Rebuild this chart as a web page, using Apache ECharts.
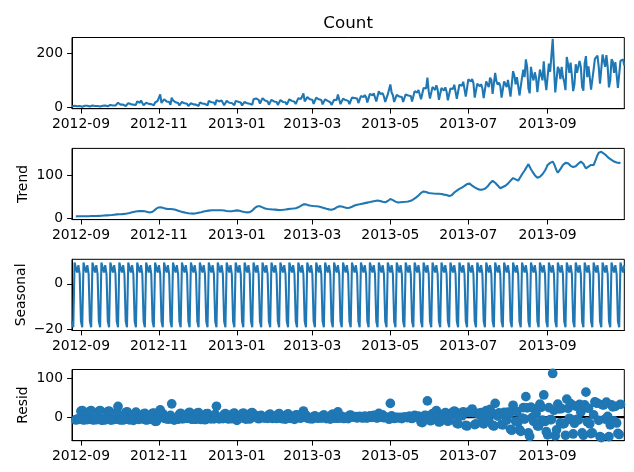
<!DOCTYPE html>
<html><head><meta charset="utf-8">
<script src="https://cdn.jsdelivr.net/npm/echarts@6/dist/echarts.min.js"></script>
<style>html,body{margin:0;padding:0;background:#fff}#c{width:634px;height:472px}</style>
</head><body><div id="c"></div>
<script>
const startDate = '2012-08-25';
const tickLabels = ['2012-09','2012-11','2013-01','2013-03','2013-05','2013-07','2013-09'];
const countTicks = [0, 200];
const trendTicks = [0, 100];
const seasonalTicks = [-20, 0];
const residTicks = [0, 100];
const residZeroLine = [0, 0];

const countValues = [
3,2,6,5,4,6,5,
3,2,6,6,5,6,4,
3,2,7,6,5,6,5,
3,3,7,6,6,7,5,
4,3,9,8,7,10,7,
4,17,12,10,9,10,8,
5,5,15,13,12,16,10,
7,9,22,19,17,25,16,
8,6,17,16,13,18,12,
8,8,18,20,24,36,48,
16,14,30,27,22,25,20,
9,36,26,21,19,22,16,
7,6,20,18,15,18,13,
5,4,15,13,11,14,10,
6,5,18,16,14,19,13,
8,7,24,22,19,24,18,
9,27,26,22,20,25,18,
8,7,24,20,17,22,16,
9,8,24,18,21,25,18,
7,6,20,17,15,18,13,
9,10,30,37,33,35,28,
14,12,34,30,25,28,22,
10,9,28,25,22,26,20,
9,9,27,24,20,25,19,
10,10,30,27,24,29,21,
12,11,34,33,31,40,52,
22,18,38,36,30,35,28,
13,12,36,33,30,35,27,
11,10,30,26,24,27,19,
9,8,28,30,27,48,29,
12,10,32,30,27,32,24,
12,11,36,38,35,40,33,
16,15,42,40,38,46,38,
18,17,50,46,44,52,48,
22,20,60,50,46,52,40,
20,18,48,46,85,55,45,
20,18,46,44,40,45,38,
20,19,48,46,44,50,42,
22,24,60,58,55,64,60,
30,28,72,75,70,110,60,
33,30,76,70,64,82,66,
28,26,72,68,62,74,58,
26,24,70,72,68,84,80,
32,30,84,86,80,95,90,
40,38,104,102,96,105,90,
36,34,88,84,78,86,70,
34,36,96,98,75,110,102,
50,44,128,96,84,92,80,
36,34,96,94,75,102,96,
40,38,134,118,85,112,80,
44,42,110,140,112,178,150,
70,52,150,118,100,130,110,
56,52,140,134,100,171,105,
64,60,162,132,130,254,150,
55,60,150,140,105,150,112,
95,64,187,160,128,166,118,
60,85,160,128,125,172,150,
76,62,163,190,112,152,110,
66,64,140,180,182,192,150,
88,84,196,192,150,194,150,
74,100,178,170,128,168,120,
72,66,172,168,178,155
];

const trendValues = [
null,null,null,3.8,3.9,4.0,3.9,
4.0,4.1,4.0,4.1,4.2,4.1,4.2,
4.3,4.4,4.4,4.5,4.6,4.7,4.7,
4.8,5.0,5.2,5.4,5.6,5.8,6.0,
6.2,6.4,6.6,6.8,7.0,7.6,8.0,
8.4,8.6,8.7,8.8,9.0,9.3,9.6,
10.0,10.4,10.8,11.5,12.3,13.2,14.0,
14.8,15.4,15.9,16.2,16.4,16.3,16.1,
16.0,15.6,15.0,14.2,13.5,12.8,12.4,
14.5,17.0,19.5,22.0,24.0,25.0,25.2,
25.0,24.0,23.0,22.0,21.5,21.0,21.0,
21.0,20.8,20.5,20.0,19.2,18.2,17.2,
16.2,15.2,14.4,13.7,13.0,12.4,11.8,
11.2,10.7,10.3,10.0,10.2,10.6,11.2,
11.8,12.4,13.0,13.6,14.3,15.0,15.6,
16.2,16.8,17.3,17.7,18.0,18.1,18.2,
18.3,18.2,18.1,18.0,18.1,18.0,17.8,
17.4,17.0,16.5,16.0,15.7,15.6,15.9,
16.4,17.0,17.5,17.9,17.6,16.8,16.0,
15.2,14.5,13.9,13.5,13.2,13.2,13.6,
15.0,17.5,20.5,23.5,26.0,27.5,28.0,
27.5,26.5,25.0,23.5,22.2,21.3,21.0,
20.8,20.5,20.2,20.0,19.8,19.6,19.3,
19.0,18.9,18.8,19.0,19.3,19.6,20.0,
20.4,20.8,21.2,21.5,21.8,22.2,22.6,
23.0,24.0,25.0,26.5,28.5,30.5,32.0,
33.0,32.0,31.0,30.0,29.2,28.6,28.2,
28.0,27.8,27.5,27.2,27.0,26.5,25.5,
24.5,23.5,22.5,21.5,20.8,20.2,19.8,
19.5,19.6,21.0,23.0,25.0,26.5,27.5,
28.0,27.0,26.0,25.0,24.2,23.6,23.5,
24.0,25.0,26.5,28.0,29.3,30.3,31.0,
31.5,32.2,33.0,33.7,34.4,35.0,35.6,
36.2,36.8,37.4,38.0,38.7,39.3,40.0,
40.5,41.0,41.0,40.2,39.0,38.0,37.3,
36.8,37.5,40.0,43.0,44.6,43.5,42.0,
40.0,38.5,37.2,36.6,36.8,37.2,37.5,
37.8,38.0,38.3,38.6,38.9,39.2,40.5,
42.0,44.0,46.0,48.0,50.0,53.0,56.0,
59.0,61.5,62.5,62.0,61.0,60.0,59.0,
58.7,58.2,57.8,57.5,57.2,57.0,57.0,
57.0,56.8,56.3,55.6,55.0,54.4,54.0,
53.0,51.8,50.7,53.5,57.0,60.0,62.5,
64.5,66.5,68.5,70.0,71.5,73.0,75.5,
78.0,80.0,82.0,81.0,78.5,76.0,74.0,
72.0,70.5,69.0,67.8,66.5,66.0,66.8,
67.8,68.8,70.0,74.0,78.0,82.0,85.5,
87.6,86.0,83.0,80.0,76.5,73.0,70.0,
71.5,73.0,74.5,76.0,78.0,81.0,84.5,
88.0,91.0,94.0,92.5,91.0,89.5,88.0,
93.0,98.0,103.0,107.0,112.0,117.0,122.0,
127.0,121.0,115.0,110.0,105.6,101.0,97.0,
95.0,94.0,97.0,100.0,103.0,105.6,112.0,
118.0,125.0,128.0,130.0,131.5,133.0,128.0,
120.0,112.0,107.0,110.0,115.0,120.0,125.0,
128.0,130.0,131.0,129.0,126.0,123.0,121.0,
120.0,120.0,122.0,125.0,128.0,131.0,133.0,
133.0,128.0,122.0,117.0,119.0,121.0,123.0,
125.0,124.0,125.0,132.0,140.0,148.0,154.0,
155.0,156.0,155.0,152.0,150.0,147.0,144.0,
141.0,139.0,137.0,135.0,133.0,132.0,131.0,
130.5,130.0,129.5,null,null,null
];

const seasonalValues = [
-16.4,-19.1,9.4,8.6,5.0,8.2,4.3,
-16.4,-19.1,9.4,8.6,5.0,8.2,4.3,
-16.4,-19.1,9.4,8.6,5.0,8.2,4.3,
-16.4,-19.1,9.4,8.6,5.0,8.2,4.3,
-16.4,-19.1,9.4,8.6,5.0,8.2,4.3,
-16.4,-19.1,9.4,8.6,5.0,8.2,4.3,
-16.4,-19.1,9.4,8.6,5.0,8.2,4.3,
-16.4,-19.1,9.4,8.6,5.0,8.2,4.3,
-16.4,-19.1,9.4,8.6,5.0,8.2,4.3,
-16.4,-19.1,9.4,8.6,5.0,8.2,4.3,
-16.4,-19.1,9.4,8.6,5.0,8.2,4.3,
-16.4,-19.1,9.4,8.6,5.0,8.2,4.3,
-16.4,-19.1,9.4,8.6,5.0,8.2,4.3,
-16.4,-19.1,9.4,8.6,5.0,8.2,4.3,
-16.4,-19.1,9.4,8.6,5.0,8.2,4.3,
-16.4,-19.1,9.4,8.6,5.0,8.2,4.3,
-16.4,-19.1,9.4,8.6,5.0,8.2,4.3,
-16.4,-19.1,9.4,8.6,5.0,8.2,4.3,
-16.4,-19.1,9.4,8.6,5.0,8.2,4.3,
-16.4,-19.1,9.4,8.6,5.0,8.2,4.3,
-16.4,-19.1,9.4,8.6,5.0,8.2,4.3,
-16.4,-19.1,9.4,8.6,5.0,8.2,4.3,
-16.4,-19.1,9.4,8.6,5.0,8.2,4.3,
-16.4,-19.1,9.4,8.6,5.0,8.2,4.3,
-16.4,-19.1,9.4,8.6,5.0,8.2,4.3,
-16.4,-19.1,9.4,8.6,5.0,8.2,4.3,
-16.4,-19.1,9.4,8.6,5.0,8.2,4.3,
-16.4,-19.1,9.4,8.6,5.0,8.2,4.3,
-16.4,-19.1,9.4,8.6,5.0,8.2,4.3,
-16.4,-19.1,9.4,8.6,5.0,8.2,4.3,
-16.4,-19.1,9.4,8.6,5.0,8.2,4.3,
-16.4,-19.1,9.4,8.6,5.0,8.2,4.3,
-16.4,-19.1,9.4,8.6,5.0,8.2,4.3,
-16.4,-19.1,9.4,8.6,5.0,8.2,4.3,
-16.4,-19.1,9.4,8.6,5.0,8.2,4.3,
-16.4,-19.1,9.4,8.6,5.0,8.2,4.3,
-16.4,-19.1,9.4,8.6,5.0,8.2,4.3,
-16.4,-19.1,9.4,8.6,5.0,8.2,4.3,
-16.4,-19.1,9.4,8.6,5.0,8.2,4.3,
-16.4,-19.1,9.4,8.6,5.0,8.2,4.3,
-16.4,-19.1,9.4,8.6,5.0,8.2,4.3,
-16.4,-19.1,9.4,8.6,5.0,8.2,4.3,
-16.4,-19.1,9.4,8.6,5.0,8.2,4.3,
-16.4,-19.1,9.4,8.6,5.0,8.2,4.3,
-16.4,-19.1,9.4,8.6,5.0,8.2,4.3,
-16.4,-19.1,9.4,8.6,5.0,8.2,4.3,
-16.4,-19.1,9.4,8.6,5.0,8.2,4.3,
-16.4,-19.1,9.4,8.6,5.0,8.2,4.3,
-16.4,-19.1,9.4,8.6,5.0,8.2,4.3,
-16.4,-19.1,9.4,8.6,5.0,8.2,4.3,
-16.4,-19.1,9.4,8.6,5.0,8.2,4.3,
-16.4,-19.1,9.4,8.6,5.0,8.2,4.3,
-16.4,-19.1,9.4,8.6,5.0,8.2,4.3,
-16.4,-19.1,9.4,8.6,5.0,8.2,4.3,
-16.4,-19.1,9.4,8.6,5.0,8.2,4.3,
-16.4,-19.1,9.4,8.6,5.0,8.2,4.3,
-16.4,-19.1,9.4,8.6,5.0,8.2,4.3,
-16.4,-19.1,9.4,8.6,5.0,8.2,4.3,
-16.4,-19.1,9.4,8.6,5.0,8.2,4.3,
-16.4,-19.1,9.4,8.6,5.0,8.2,4.3,
-16.4,-19.1,9.4,8.6,5.0,8.2,4.3,
-16.4,-19.1,9.4,8.6,5.0,8.2
];

const residValues = [
null,null,null,-7.4,-4.9,-6.2,-3.2,
15.4,17.0,-7.4,-6.7,-4.2,-6.3,-4.5,
15.1,16.7,-6.8,-7.1,-4.6,-6.9,-4.0,
14.6,17.1,-7.6,-8.0,-4.6,-7.0,-5.3,
14.2,15.7,-7.0,-7.4,-5.0,-5.8,-5.3,
12.0,27.5,-6.1,-7.4,-5.0,-7.5,-5.9,
11.4,13.7,-5.2,-7.1,-5.3,-5.4,-8.3,
8.6,12.7,-3.3,-5.8,-4.4,0.5,-4.4,
8.4,9.5,-7.4,-6.8,-5.5,-3.0,-4.7,
9.9,10.1,-10.9,-10.6,-5.0,2.8,18.5,
7.4,9.1,-2.4,-3.6,-4.5,-4.2,-5.3,
4.4,34.3,-3.9,-7.6,-5.2,-4.4,-5.5,
7.2,9.9,-3.8,-4.3,-3.0,-2.6,-3.1,
10.2,12.4,-4.7,-5.6,-4.2,-4.8,-5.5,
10.6,11.7,-4.4,-6.2,-5.3,-4.2,-6.9,
8.2,9.3,-2.7,-4.3,-4.0,-2.3,-4.5,
7.1,27.9,-1.5,-4.6,-3.1,-1.2,-4.1,
7.0,9.1,-1.9,-4.6,-3.7,-1.8,-4.2,
9.0,10.1,-2.9,-8.5,-1.6,0.0,-2.3,
8.2,10.6,-3.3,-5.1,-3.2,-3.4,-4.9,
10.4,11.6,0.1,4.9,2.0,-0.7,-4.3,
2.9,4.6,-0.4,-2.1,-2.2,-1.5,-3.3,
5.6,7.6,-1.6,-3.6,-2.8,-1.8,-3.6,
6.4,9.2,-1.2,-3.6,-4.3,-2.8,-5.3,
6.0,8.3,-0.6,-3.1,-2.8,-1.4,-5.9,
5.4,6.1,-0.4,-2.1,-2.5,1.3,15.7,
5.4,5.1,-2.4,-2.6,-4.2,-1.8,-4.5,
1.4,3.3,-0.9,-2.8,-2.0,0.3,-2.8,
2.9,5.6,-1.9,-4.1,-1.8,-1.4,-5.1,
5.9,7.5,-2.4,-1.6,-3.0,13.3,-2.8,
0.4,2.1,-3.4,-3.6,-2.2,0.2,-3.8,
4.4,5.1,0.1,1.4,0.7,1.5,-2.3,
0.9,1.9,-0.4,-2.3,-1.4,2.8,-1.9,
-1.8,-0.7,3.2,-0.6,0.3,4.5,3.7,
-2.1,-1.9,9.6,1.2,2.0,5.8,-1.6,
-0.4,-0.4,-1.4,-5.6,35.4,3.3,-1.3,
-3.6,-1.4,-0.6,-1.2,-1.8,-0.4,-3.8,
-1.4,0.1,0.3,-1.2,0.1,2.6,-2.8,
-3.6,-0.9,4.6,1.4,0.0,2.8,-0.3,
-12.6,-14.4,0.1,4.4,4.0,41.8,-3.3,
-9.3,-9.1,8.8,3.9,1.8,16.8,4.7,
-12.6,-11.7,6.3,3.8,2.0,11.4,-0.3,
-10.6,-8.7,9.9,9.9,6.0,15.8,13.2,
-16.1,-17.4,6.1,7.4,3.5,13.8,10.2,
-21.6,-22.9,12.6,12.4,12.5,20.8,11.7,
-19.6,-17.4,9.6,7.6,6.5,11.8,-1.1,
-17.4,-13.7,16.6,15.4,-8.0,19.8,12.2,
-21.2,-22.9,35.6,7.4,2.5,10.8,5.7,
-19.1,-19.9,12.1,9.4,-8.0,12.8,7.2,
-31.6,-33.9,30.6,16.9,-11.0,14.3,-12.3,
-32.6,-36.9,-2.4,24.4,-5.0,52.8,23.7,
-40.6,-49.9,25.6,-0.6,-10.6,20.8,8.7,
-22.6,-22.9,33.6,25.4,-8.0,57.2,-11.3,
-37.6,-45.9,24.6,-6.6,-6.5,112.8,17.7,
-48.6,-32.9,33.6,21.4,-15.0,21.8,-17.3,
-16.6,-46.9,46.6,22.4,-3.0,34.8,-7.3,
-43.6,-15.9,28.6,-5.6,-8.0,32.8,12.7,
-40.6,-46.9,31.6,64.4,-12.0,22.8,-17.3,
-42.6,-40.9,5.6,39.4,37.0,35.8,-8.3,
-50.6,-52.9,31.6,31.4,-5.0,38.8,1.7,
-50.6,-19.9,31.6,26.4,-10.0,27.8,-15.3,
-42.1,-44.9,33.1,null,null,null
];

const DAY = 86400000;
const t0 = Date.parse(startDate + 'T00:00:00Z');
const dates = countValues.map((_, i) => t0 + i * DAY);
const pairs = arr => arr.map((v, i) => [dates[i], v]).filter(p => p[1] !== null);
const xTickValues = tickLabels.map(s => Date.parse(s + '-01T00:00:00Z'));
const labelMap = {};
tickLabels.forEach((s, i) => { labelMap[xTickValues[i]] = s; });
const xMin = dates[0], xMax = dates[dates.length - 1];

const FONT = 'DejaVu Sans';
const FS = 13.9;
const BLUE = '#1f77b4';
const LEFT = 72, WIDTH = 552.3, HEIGHT = 71.2;
const tops = [37.5, 148.4, 259.3, 369.5];

function xAxis(i) {
  return {
    type: 'value', gridIndex: i, min: xMin, max: xMax,
    axisLine: {show: true, onZero: false, lineStyle: {color: '#000', width: 1}},
    axisTick: {show: true, customValues: xTickValues, length: 4.9, lineStyle: {color: '#000', width: 1}},
    axisLabel: {customValues: xTickValues, formatter: v => labelMap[v] || '', fontSize: FS, fontFamily: FONT, color: '#000', margin: 9},
    splitLine: {show: false}
  };
}
function yAxis(i, min, max, ticks, name, gap) {
  return {
    type: 'value', gridIndex: i, min: min, max: max,
    name: name, nameLocation: 'middle', nameRotate: 90, nameGap: gap, nameMoveOverlap: false,
    nameTextStyle: {fontSize: FS, fontFamily: FONT, color: '#000'},
    axisLine: {show: true, onZero: false, lineStyle: {color: '#000', width: 1}},
    axisTick: {show: true, customValues: ticks, length: 4.9, lineStyle: {color: '#000', width: 1}},
    axisLabel: {customValues: ticks, formatter: v => (v < 0 ? '\u2212' + Math.abs(v) : String(v)), fontSize: FS, fontFamily: FONT, color: '#000', margin: 9},
    splitLine: {show: false}
  };
}

const chart = echarts.init(document.getElementById('c'), null, {renderer: 'canvas'});
chart.setOption({
  animation: false,
  backgroundColor: '#fff',
  grid: tops.map(t => ({left: LEFT, top: t, width: WIDTH, height: HEIGHT, show: true, borderColor: '#000', borderWidth: 1, backgroundColor: 'transparent'})),
  xAxis: [0, 1, 2, 3].map(xAxis),
  yAxis: [
    yAxis(0, -5, 259, countTicks, '', 40),
    yAxis(1, -3.9, 164.1, trendTicks, 'Trend', 42),
    yAxis(2, -20.5, 10.8, seasonalTicks, 'Seasonal', 44),
    yAxis(3, -61, 123, residTicks, 'Resid', 42)
  ],
  graphic: [{
    type: 'text', x: LEFT + WIDTH / 2, y: 23.5,
    style: {text: 'Count', font: '16.7px "DejaVu Sans"', fill: '#000', textAlign: 'center', textVerticalAlign: 'middle'}
  }],
  series: [
    {type: 'line', xAxisIndex: 0, yAxisIndex: 0, data: pairs(countValues), showSymbol: false, lineStyle: {color: BLUE, width: 2.08}, itemStyle: {color: BLUE}},
    {type: 'line', xAxisIndex: 1, yAxisIndex: 1, data: pairs(trendValues), showSymbol: false, lineStyle: {color: BLUE, width: 2.08}, itemStyle: {color: BLUE}},
    {type: 'line', xAxisIndex: 2, yAxisIndex: 2, data: pairs(seasonalValues), showSymbol: false, lineStyle: {color: BLUE, width: 2.08}, itemStyle: {color: BLUE}},
    {type: 'line', xAxisIndex: 3, yAxisIndex: 3, z: 1, data: [[xMin, residZeroLine[0]], [xMax, residZeroLine[1]]], showSymbol: false, silent: true, lineStyle: {color: '#000', width: 2.08}, itemStyle: {color: '#000'}},
    {type: 'scatter', xAxisIndex: 3, yAxisIndex: 3, data: pairs(residValues), symbol: 'circle', symbolSize: 9.7, z: 3, itemStyle: {color: BLUE, opacity: 1}}
  ]
});
</script>
</body></html>
